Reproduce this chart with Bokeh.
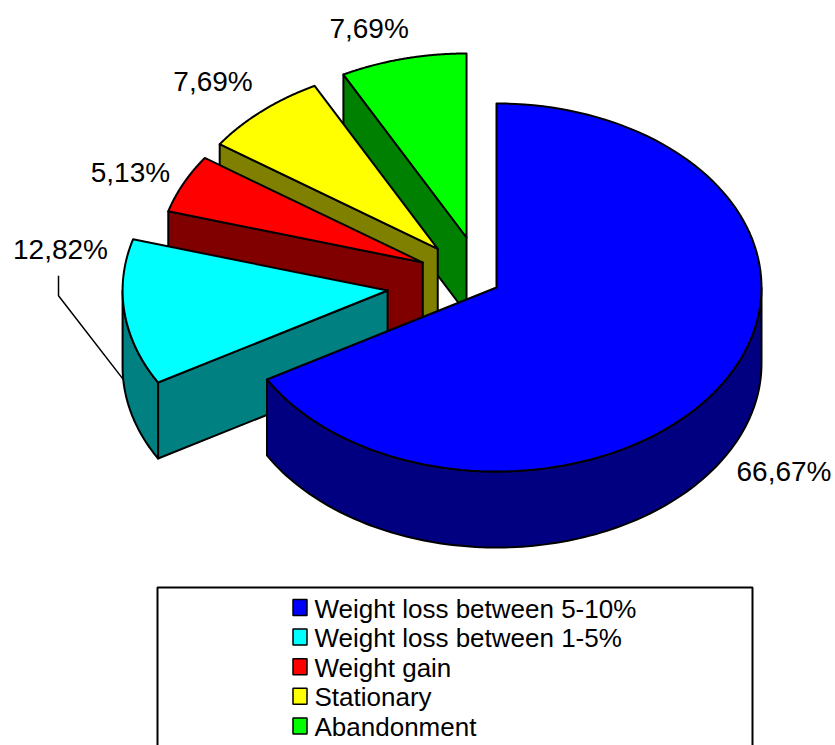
import numpy as np
from bokeh.plotting import figure
from bokeh.models import Range1d
from bokeh.embed import file_html
from bokeh.resources import INLINE
from bokeh.core.properties import value

# ---------------- data ----------------
categories = ["Weight loss between 5-10%", "Weight loss between 1-5%",
              "Weight gain", "Stationary", "Abandonment"]
percents = [66.67, 12.82, 5.13, 7.69, 7.69]
pct_labels = ["66,67%", "12,82%", "5,13%", "7,69%", "7,69%"]

# ---------------- style ----------------
top_colors = ["#0000FF", "#00FFFF", "#FF0000", "#FFFF00", "#00FF00"]
side_colors = ["#000080", "#008080", "#800000", "#808000", "#008000"]
explode_dist = [0, 109, 82, 81, 78]          # px (unsquashed)
explode_dir = [0, 182.3, 154.0, 136.5, 112.6]  # degrees
label_off = [(58, 92), (-64, -63), (-53, -11), (-49, -30), (-34, -30)]
FONT = "Liberation Sans"

W, H = 835, 745
CX, CY = 496, 287
RX, RY = 265.0, 184.0
SQ = RY / RX
DEPTH = 76

p = figure(width=W, height=H, x_range=Range1d(0, W), y_range=Range1d(H, 0),
           x_axis_type=None, y_axis_type=None, toolbar_location=None,
           output_backend="svg", min_border=0)
p.outline_line_color = None
p.grid.visible = False


def pt(ax, ay, th_deg, dz=0.0):
    t = np.radians(th_deg)
    return ax + RX * np.cos(t), ay - RY * np.sin(t) + dz


def arc(ax, ay, a, b, dz=0.0, n=120):
    th = np.linspace(a, b, n)
    x, y = pt(ax, ay, th, dz)
    return list(x), list(y)


total = sum(percents)
xs, ys, fills = [], [], []
apexes, angles = [], []
cum = 0.0
for i, v in enumerate(percents):
    s = 90 - 360 * cum / total
    e = s - 360 * v / total
    cum += v
    d = explode_dist[i]
    ph = np.radians(explode_dir[i])
    ax = CX + d * np.cos(ph)
    ay = CY - d * np.sin(ph) * SQ
    apexes.append((ax, ay))
    angles.append((s, e))

order = [4, 3, 2, 1, 0]
for i in order:
    ax, ay = apexes[i]
    s, e = angles[i]
    # radial faces
    for th, vis in ((s, np.cos(np.radians(s)) < -1e-6), (e, np.cos(np.radians(e)) > 1e-6)):
        if vis:
            cx_, cy_ = pt(ax, ay, th)
            xs.append([ax, cx_, cx_, ax])
            ys.append([ay, cy_, cy_ + DEPTH, ay + DEPTH])
            fills.append(side_colors[i])
    # curved front side
    for lo, hi in ((-180, 0), (180, 360)):
        a = max(e, lo)
        b = min(s, hi)
        if b > a:
            tx, ty = arc(ax, ay, a, b)
            bx, by = arc(ax, ay, b, a, DEPTH)
            xs.append(tx + bx)
            ys.append(ty + by)
            fills.append(side_colors[i])
    # top face
    tx, ty = arc(ax, ay, s, e)
    xs.append([ax] + tx)
    ys.append([ay] + ty)
    fills.append(top_colors[i])

p.patches(xs, ys, fill_color=fills, line_color="black", line_width=2, line_join="round")

# percentage labels
lx, ly = [], []
for i in range(len(percents)):
    ax, ay = apexes[i]
    s, e = angles[i]
    mid = (s + e) / 2
    ox, oy = pt(ax, ay, mid)
    lx.append(ox + label_off[i][0])
    ly.append(oy + label_off[i][1])
p.text(lx, ly, text=pct_labels, text_font=value(FONT), text_font_size="28px",
       text_align="center", text_baseline="middle", text_color="black")

# leader line for the 12,82% label
ax, ay = apexes[1]
ex, ey = pt(ax, ay, 184, DEPTH)
p.line([lx[1] - 2, lx[1] - 2, ex], [ly[1] + 26, ly[1] + 46, ey], line_color="black", line_width=1.5)

# legend
LX0, LX1, LY0 = 157, 752, 587
p.line([LX0, LX0, LX1, LX1], [H + 5, LY0, LY0, H + 5], line_color="black", line_width=2)
row_y = [607 + 29.6 * k for k in range(len(categories))]
p.rect([299.5] * len(categories), row_y, width=14, height=16, fill_color=top_colors,
       line_color="black", line_width=1.5)
p.text([314] * len(categories), [y + 1 for y in row_y], text=categories, text_font=value(FONT),
       text_font_size="26px", text_align="left", text_baseline="middle", text_color="black")

open("out.html", "w").write(file_html(p, INLINE))
